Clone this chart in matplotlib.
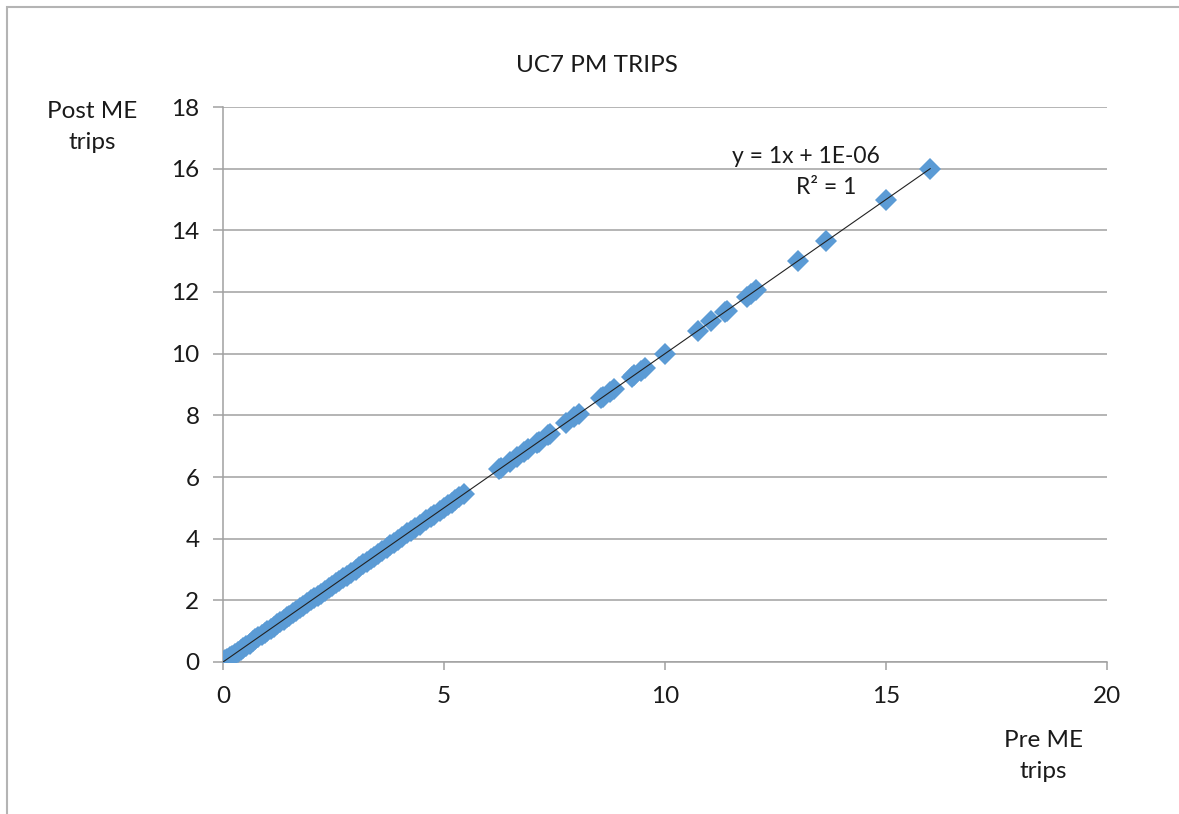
import numpy as np
import matplotlib.pyplot as plt
from matplotlib.patches import Rectangle

# pre / post ME trips (post equals pre, R^2 = 1)
pre_trips = [0.0, 0.02, 0.05, 0.1, 0.15, 0.2, 0.27, 0.33, 0.4, 0.46, 0.52, 0.6,
             0.67, 0.73, 0.8, 0.88, 0.95, 1.0, 1.08, 1.15, 1.22, 1.3, 1.37, 1.45,
             1.5, 1.58, 1.66, 1.75, 1.82, 1.9, 2.0, 2.07, 2.15, 2.22, 2.3, 2.4,
             2.47, 2.55, 2.63, 2.72, 2.8, 2.9, 3.0, 3.08, 3.17, 3.25, 3.35, 3.42,
             3.5, 3.6, 3.7, 3.78, 3.87, 3.95, 4.05, 4.17, 4.25, 4.35, 4.45, 4.6,
             4.7, 4.78, 4.9, 5.0, 5.08, 5.17, 5.25, 5.35, 5.45,
             6.25, 6.3, 6.5, 6.65, 6.8, 6.9, 7.1, 7.15, 7.35, 7.4, 7.75, 7.95,
             8.05, 8.55, 8.6, 8.75, 8.85, 9.25, 9.3, 9.45, 9.55, 10.0, 10.75,
             11.05, 11.35, 11.4, 11.85, 11.95, 12.05, 13.0, 13.65, 15.0, 16.0]
post_trips = [0.0, 0.02, 0.05, 0.1, 0.15, 0.2, 0.27, 0.33, 0.4, 0.46, 0.52, 0.6,
              0.67, 0.73, 0.8, 0.88, 0.95, 1.0, 1.08, 1.15, 1.22, 1.3, 1.37, 1.45,
              1.5, 1.58, 1.66, 1.75, 1.82, 1.9, 2.0, 2.07, 2.15, 2.22, 2.3, 2.4,
              2.47, 2.55, 2.63, 2.72, 2.8, 2.9, 3.0, 3.08, 3.17, 3.25, 3.35, 3.42,
              3.5, 3.6, 3.7, 3.78, 3.87, 3.95, 4.05, 4.17, 4.25, 4.35, 4.45, 4.6,
              4.7, 4.78, 4.9, 5.0, 5.08, 5.17, 5.25, 5.35, 5.45,
              6.25, 6.3, 6.5, 6.65, 6.8, 6.9, 7.1, 7.15, 7.35, 7.4, 7.75, 7.95,
              8.05, 8.55, 8.6, 8.75, 8.85, 9.25, 9.3, 9.45, 9.55, 10.0, 10.75,
              11.05, 11.35, 11.4, 11.85, 11.95, 12.05, 13.0, 13.65, 15.0, 16.0]
x_ticks = [0, 5, 10, 15, 20]
y_ticks = [0, 2, 4, 6, 8, 10, 12, 14, 16, 18]

plt.rcParams['font.family'] = ['Lato', 'DejaVu Sans']
grid_col = '#a0a0a0'
text_col = '#1a1a1a'
fs = 17.5

fig = plt.figure(figsize=(11.79, 8.14), dpi=100)
ax = fig.add_axes([223 / 1179, 1 - 662 / 814, (1107 - 223) / 1179, (662 - 107) / 814])

# chart border (only left/top visible in the crop)
fig.patches.append(Rectangle((7 / 1179, -0.05), 1.1, 0.9914 + 0.05,
                             transform=fig.transFigure, fill=False,
                             edgecolor='#b4b4b4', linewidth=1.5))

ax.plot(pre_trips, post_trips, 'D', color='#5b9bd5', markersize=11,
        markeredgewidth=0, zorder=3)

# linear trendline
slope, icpt = np.polyfit(pre_trips, post_trips, 1)
xs = np.array([min(pre_trips), max(pre_trips)])
ax.plot(xs, slope * xs + icpt, color='#222222', linewidth=0.8, zorder=4)

ax.text(13.19, 16.38, 'y = 1x + 1E-06', ha='center', va='center',
        fontsize=fs - 1, color=text_col)
ax.text(13.64, 15.4, 'R² = 1', ha='center', va='center',
        fontsize=fs - 1, color=text_col)

ax.set_xlim(0, 20)
ax.set_ylim(0, 18)
ax.set_xticks(x_ticks)
ax.set_yticks(y_ticks)
ax.yaxis.grid(True, color=grid_col, linewidth=1.1)
ax.set_axisbelow(True)
for s in ['top', 'right']:
    ax.spines[s].set_visible(False)
for s in ['left', 'bottom']:
    ax.spines[s].set_color(grid_col)
    ax.spines[s].set_linewidth(1.1)
ax.tick_params(axis='both', colors=grid_col, labelcolor=text_col,
               labelsize=fs, width=1.1)
ax.tick_params(axis='x', length=6, pad=11)
ax.tick_params(axis='y', length=7, pad=10)

fig.text(597 / 1179, 1 - 65 / 814, 'UC7 PM TRIPS', ha='center', va='center',
         fontsize=fs, color=text_col)
fig.text(92 / 1179, 1 - 127 / 814, 'Post ME\ntrips', ha='center', va='center',
         fontsize=fs, color=text_col, linespacing=1.6)
fig.text(1043 / 1179, 1 - 756 / 814, 'Pre ME\ntrips', ha='center', va='center',
         fontsize=fs, color=text_col, linespacing=1.6)

fig.savefig('out.png', dpi=100)
